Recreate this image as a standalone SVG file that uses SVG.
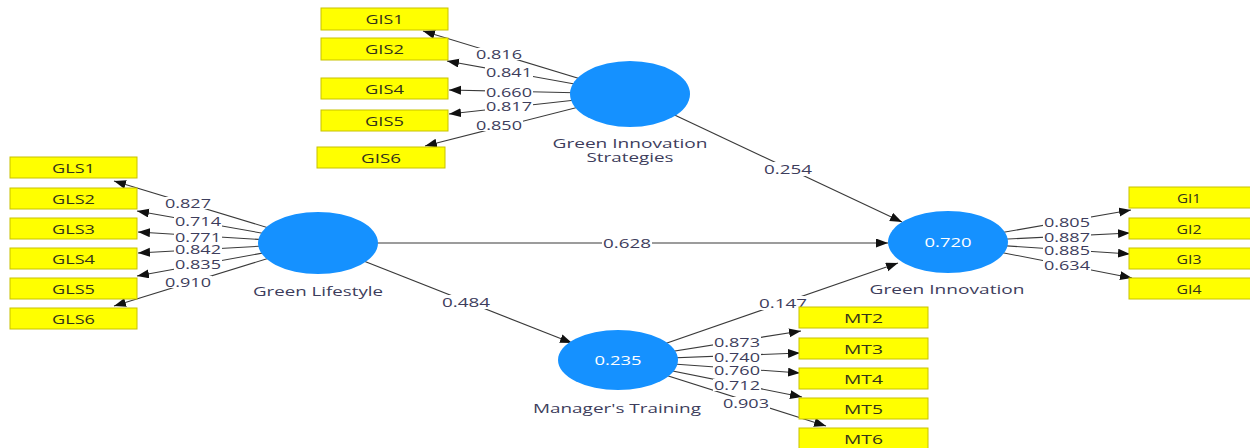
<svg xmlns="http://www.w3.org/2000/svg" width="1250" height="448" viewBox="0 0 1250 448">
<defs>
<marker id="arr" markerUnits="userSpaceOnUse" markerWidth="13" markerHeight="10" refX="12" refY="4.5" orient="auto">
<path d="M0,0 L12,4.5 L0,9 z" fill="#111"/>
</marker>
<style>
.ln{stroke:#3a3a3a;stroke-width:1.1;fill:none;marker-end:url(#arr)}
.bx{fill:#ffff00;stroke:#c8c200;stroke-width:1}
.bt{font-family:"Open Sans","Liberation Sans",sans-serif;font-size:13px;fill:#33331a;text-anchor:middle;dominant-baseline:central}
.lv{fill:#1591ff}
.lt{font-family:"Open Sans","Liberation Sans",sans-serif;font-size:13px;fill:#3d3d5c;text-anchor:middle;dominant-baseline:central}
.nb{font-family:"Open Sans","Liberation Sans",sans-serif;font-size:13px;fill:#3d3d5c;text-anchor:middle;dominant-baseline:central}
.wt{font-family:"Open Sans","Liberation Sans",sans-serif;font-size:13px;fill:#ffffff;text-anchor:middle;dominant-baseline:central}
.bg{fill:#ffffff}
</style>
</defs>
<rect width="1250" height="448" fill="#ffffff"/>
<g id="connectors">
<line class="ln" x1="630" y1="94" x2="423" y2="31"/>
<line class="ln" x1="630" y1="94" x2="447" y2="61"/>
<line class="ln" x1="630" y1="94" x2="449" y2="90"/>
<line class="ln" x1="630" y1="94" x2="449" y2="114"/>
<line class="ln" x1="630" y1="94" x2="425" y2="146"/>
<line class="ln" x1="318" y1="243" x2="114" y2="181"/>
<line class="ln" x1="318" y1="243" x2="137" y2="211"/>
<line class="ln" x1="318" y1="243" x2="138" y2="232"/>
<line class="ln" x1="318" y1="243" x2="138" y2="253"/>
<line class="ln" x1="318" y1="243" x2="137" y2="276"/>
<line class="ln" x1="318" y1="243" x2="114" y2="306"/>
<line class="ln" x1="948" y1="242" x2="1131" y2="210"/>
<line class="ln" x1="948" y1="242" x2="1130" y2="233"/>
<line class="ln" x1="948" y1="242" x2="1130" y2="254"/>
<line class="ln" x1="948" y1="242" x2="1132" y2="278"/>
<line class="ln" x1="618" y1="360" x2="801" y2="331"/>
<line class="ln" x1="618" y1="360" x2="800" y2="353"/>
<line class="ln" x1="618" y1="360" x2="800" y2="373"/>
<line class="ln" x1="618" y1="360" x2="802" y2="397"/>
<line class="ln" x1="618" y1="360" x2="826" y2="426"/>
<line class="ln" x1="630" y1="94" x2="902" y2="222"/>
<line class="ln" x1="318" y1="243" x2="888" y2="243"/>
<line class="ln" x1="318" y1="243" x2="572" y2="343"/>
<line class="ln" x1="618" y1="360" x2="898" y2="263"/>
<g id="labels">
<rect class="bg" x="475" y="48" width="48" height="12"/><text class="nb" x="499" y="54" textLength="46" lengthAdjust="spacingAndGlyphs">0.816</text>
<rect class="bg" x="485" y="66" width="48" height="12"/><text class="nb" x="509" y="72" textLength="46" lengthAdjust="spacingAndGlyphs">0.841</text>
<rect class="bg" x="485" y="86" width="48" height="12"/><text class="nb" x="509" y="92" textLength="46" lengthAdjust="spacingAndGlyphs">0.660</text>
<rect class="bg" x="485" y="100" width="48" height="12"/><text class="nb" x="509" y="106" textLength="46" lengthAdjust="spacingAndGlyphs">0.817</text>
<rect class="bg" x="475" y="119" width="48" height="12"/><text class="nb" x="499" y="125" textLength="46" lengthAdjust="spacingAndGlyphs">0.850</text>
<rect class="bg" x="164" y="197" width="48" height="12"/><text class="nb" x="188" y="203" textLength="46" lengthAdjust="spacingAndGlyphs">0.827</text>
<rect class="bg" x="174" y="215" width="48" height="12"/><text class="nb" x="198" y="221" textLength="46" lengthAdjust="spacingAndGlyphs">0.714</text>
<rect class="bg" x="174" y="231" width="48" height="12"/><text class="nb" x="198" y="237" textLength="46" lengthAdjust="spacingAndGlyphs">0.771</text>
<rect class="bg" x="174" y="243" width="48" height="12"/><text class="nb" x="198" y="249" textLength="46" lengthAdjust="spacingAndGlyphs">0.842</text>
<rect class="bg" x="174" y="258" width="48" height="12"/><text class="nb" x="198" y="264" textLength="46" lengthAdjust="spacingAndGlyphs">0.835</text>
<rect class="bg" x="164" y="276" width="48" height="12"/><text class="nb" x="188" y="282" textLength="46" lengthAdjust="spacingAndGlyphs">0.910</text>
<rect class="bg" x="1043" y="216" width="48" height="12"/><text class="nb" x="1067" y="222" textLength="46" lengthAdjust="spacingAndGlyphs">0.805</text>
<rect class="bg" x="1043" y="231" width="48" height="12"/><text class="nb" x="1067" y="237" textLength="46" lengthAdjust="spacingAndGlyphs">0.887</text>
<rect class="bg" x="1043" y="244" width="48" height="12"/><text class="nb" x="1067" y="250" textLength="46" lengthAdjust="spacingAndGlyphs">0.885</text>
<rect class="bg" x="1043" y="259" width="48" height="12"/><text class="nb" x="1067" y="265" textLength="46" lengthAdjust="spacingAndGlyphs">0.634</text>
<rect class="bg" x="713" y="336" width="48" height="12"/><text class="nb" x="737" y="342" textLength="46" lengthAdjust="spacingAndGlyphs">0.873</text>
<rect class="bg" x="713" y="351" width="48" height="12"/><text class="nb" x="737" y="357" textLength="46" lengthAdjust="spacingAndGlyphs">0.740</text>
<rect class="bg" x="713" y="364" width="48" height="12"/><text class="nb" x="737" y="370" textLength="46" lengthAdjust="spacingAndGlyphs">0.760</text>
<rect class="bg" x="713" y="379" width="48" height="12"/><text class="nb" x="737" y="385" textLength="46" lengthAdjust="spacingAndGlyphs">0.712</text>
<rect class="bg" x="722" y="397" width="48" height="12"/><text class="nb" x="746" y="403" textLength="46" lengthAdjust="spacingAndGlyphs">0.903</text>
<rect class="bg" x="763" y="162" width="50" height="14"/><text class="nb" x="788" y="169" textLength="48" lengthAdjust="spacingAndGlyphs">0.254</text>
<rect class="bg" x="602" y="236" width="50" height="14"/><text class="nb" x="627" y="243" textLength="48" lengthAdjust="spacingAndGlyphs">0.628</text>
<rect class="bg" x="441" y="295" width="50" height="14"/><text class="nb" x="466" y="302" textLength="48" lengthAdjust="spacingAndGlyphs">0.484</text>
<rect class="bg" x="758" y="296" width="50" height="14"/><text class="nb" x="783" y="303" textLength="48" lengthAdjust="spacingAndGlyphs">0.147</text>
</g>
</g>
<g id="GIS">
<ellipse class="lv" cx="630" cy="94" rx="60" ry="33"/>
<text class="lt" x="630" y="143" textLength="155" lengthAdjust="spacingAndGlyphs">Green Innovation</text>
<text class="lt" x="630" y="157" textLength="87" lengthAdjust="spacingAndGlyphs">Strategies</text>
</g>
<g id="GL">
<ellipse class="lv" cx="318" cy="243" rx="60" ry="31"/>
<text class="lt" x="318" y="291" textLength="130" lengthAdjust="spacingAndGlyphs">Green Lifestyle</text>
</g>
<g id="GI">
<ellipse class="lv" cx="948" cy="242" rx="60" ry="31"/>
<text class="wt" x="948" y="242" textLength="47" lengthAdjust="spacingAndGlyphs">0.720</text>
<text class="lt" x="947" y="289" textLength="155" lengthAdjust="spacingAndGlyphs">Green Innovation</text>
</g>
<g id="MT">
<ellipse class="lv" cx="618" cy="360" rx="60" ry="30"/>
<text class="wt" x="618" y="360" textLength="47" lengthAdjust="spacingAndGlyphs">0.235</text>
<text class="lt" x="617" y="408" textLength="168" lengthAdjust="spacingAndGlyphs">Manager's Training</text>
</g>
<g id="GIS1"><rect class="bx" x="321" y="8" width="127" height="22"/><text class="bt" x="384.5" y="19" textLength="38" lengthAdjust="spacingAndGlyphs">GIS1</text></g>
<g id="GIS2"><rect class="bx" x="321" y="38" width="127" height="22"/><text class="bt" x="384.5" y="49" textLength="39" lengthAdjust="spacingAndGlyphs">GIS2</text></g>
<g id="GIS4"><rect class="bx" x="321" y="78" width="127" height="21"/><text class="bt" x="384.5" y="89" textLength="39" lengthAdjust="spacingAndGlyphs">GIS4</text></g>
<g id="GIS5"><rect class="bx" x="321" y="110" width="127" height="21"/><text class="bt" x="384.5" y="121" textLength="39" lengthAdjust="spacingAndGlyphs">GIS5</text></g>
<g id="GIS6"><rect class="bx" x="317" y="147" width="128" height="21"/><text class="bt" x="381" y="158" textLength="40" lengthAdjust="spacingAndGlyphs">GIS6</text></g>
<g id="GLS1"><rect class="bx" x="10" y="157" width="127" height="21"/><text class="bt" x="73.5" y="168" textLength="43" lengthAdjust="spacingAndGlyphs">GLS1</text></g>
<g id="GLS2"><rect class="bx" x="10" y="188" width="127" height="21"/><text class="bt" x="73.5" y="199" textLength="43" lengthAdjust="spacingAndGlyphs">GLS2</text></g>
<g id="GLS3"><rect class="bx" x="10" y="218" width="127" height="21"/><text class="bt" x="73.5" y="229" textLength="43" lengthAdjust="spacingAndGlyphs">GLS3</text></g>
<g id="GLS4"><rect class="bx" x="10" y="248" width="127" height="21"/><text class="bt" x="73.5" y="259" textLength="43" lengthAdjust="spacingAndGlyphs">GLS4</text></g>
<g id="GLS5"><rect class="bx" x="10" y="278" width="127" height="21"/><text class="bt" x="73.5" y="289" textLength="43" lengthAdjust="spacingAndGlyphs">GLS5</text></g>
<g id="GLS6"><rect class="bx" x="10" y="308" width="127" height="21"/><text class="bt" x="73.5" y="319" textLength="43" lengthAdjust="spacingAndGlyphs">GLS6</text></g>
<g id="GI1"><rect class="bx" x="1129" y="187" width="126" height="21"/><text class="bt" x="1189" y="198" textLength="24" lengthAdjust="spacingAndGlyphs">GI1</text></g>
<g id="GI2"><rect class="bx" x="1129" y="218" width="126" height="21"/><text class="bt" x="1189" y="229" textLength="25" lengthAdjust="spacingAndGlyphs">GI2</text></g>
<g id="GI3"><rect class="bx" x="1129" y="248" width="126" height="21"/><text class="bt" x="1189" y="259" textLength="25" lengthAdjust="spacingAndGlyphs">GI3</text></g>
<g id="GI4"><rect class="bx" x="1129" y="278" width="126" height="21"/><text class="bt" x="1189" y="289" textLength="25" lengthAdjust="spacingAndGlyphs">GI4</text></g>
<g id="MT2"><rect class="bx" x="799" y="307" width="129" height="21"/><text class="bt" x="863.5" y="318" textLength="39" lengthAdjust="spacingAndGlyphs">MT2</text></g>
<g id="MT3"><rect class="bx" x="799" y="338" width="129" height="21"/><text class="bt" x="863.5" y="349" textLength="39" lengthAdjust="spacingAndGlyphs">MT3</text></g>
<g id="MT4"><rect class="bx" x="799" y="368" width="129" height="21"/><text class="bt" x="863.5" y="379" textLength="39" lengthAdjust="spacingAndGlyphs">MT4</text></g>
<g id="MT5"><rect class="bx" x="799" y="398" width="129" height="21"/><text class="bt" x="863.5" y="409" textLength="39" lengthAdjust="spacingAndGlyphs">MT5</text></g>
<g id="MT6"><rect class="bx" x="799" y="428" width="129" height="21"/><text class="bt" x="863.5" y="439" textLength="39" lengthAdjust="spacingAndGlyphs">MT6</text></g>
</svg>
